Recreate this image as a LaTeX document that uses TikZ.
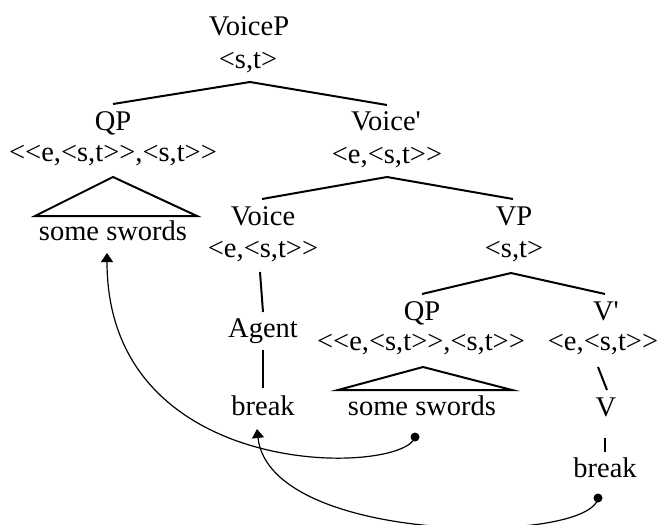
\documentclass[tikz,border=0pt]{standalone}
\usepackage{fontspec}
\setmainfont{Liberation Serif}[Ligatures=TeXOff]
\usetikzlibrary{arrows.meta}
\begin{document}
\begin{tikzpicture}[x=1pt,y=-1pt,
  lbl/.style={anchor=base,inner sep=0pt,font=\fontsize{28.5}{34}\selectfont},
  branch/.style={line width=2pt},
  mvcurve/.style={line width=1.2pt,-{Triangle[width=12pt,length=9pt]}},
  dotpt/.style={circle,fill=black,inner sep=0pt,minimum size=9pt}]
\useasboundingbox (0,0) rectangle (659,525);
% labels
\node[lbl] (voicep) at (249,35) {VoiceP};
\node[lbl] (voicepT) at (248,68) {<s,t>};
\node[lbl] (qp) at (113,130) {QP};
\node[lbl] (qpT) at (113,161) {<<e,<s,t>>,<s,t>>};
\node[lbl] (ss1) at (113,240) {some swords};
\node[lbl] (voicebar) at (386,130) {Voice\textquotesingle};
\node[lbl] (voicebarT) at (387,163) {<e,<s,t>>};
\node[lbl] (voice) at (263,225) {Voice};
\node[lbl] (voiceT) at (263,257) {<e,<s,t>>};
\node[lbl] (vp) at (514,225) {VP};
\node[lbl] (vpT) at (514,257) {<s,t>};
\node[lbl] (agent) at (263,337) {Agent};
\node[lbl] (break1) at (263,415) {break};
\node[lbl] (qp2) at (422,320) {QP};
\node[lbl] (qp2T) at (421,350) {<<e,<s,t>>,<s,t>>};
\node[lbl] (ss2) at (422,415) {some swords};
\node[lbl] (vbar) at (606,320) {V\textquotesingle};
\node[lbl] (vbarT) at (603,350) {<e,<s,t>>};
\node[lbl] (v) at (606,416) {V};
\node[lbl] (break2) at (605,477) {break};
% branch points
\coordinate (a1) at (250,82);
\coordinate (a1l) at (113,104);
\coordinate (a1r) at (387,105);
\coordinate (a2) at (387,177);
\coordinate (a2l) at (262,199);
\coordinate (a2r) at (513,199);
\coordinate (a3) at (511,273);
\coordinate (a3l) at (422,294);
\coordinate (a3r) at (605,294);
\coordinate (u1) at (260,272);
\coordinate (u1e) at (263,312);
\coordinate (u2) at (263,350);
\coordinate (u2e) at (263,388);
\coordinate (u3) at (598,367);
\coordinate (u3e) at (607,390);
\coordinate (u4) at (605,438);
\coordinate (u4e) at (605,452);
\coordinate (t1a) at (113,177);
\coordinate (t1l) at (35,216);
\coordinate (t1r) at (197,216);
\coordinate (t2a) at (423,367);
\coordinate (t2l) at (338,390);
\coordinate (t2r) at (512,390);
\draw[branch] (a1l) -- (a1) -- (a1r);
\draw[branch] (a2l) -- (a2) -- (a2r);
\draw[branch] (a3l) -- (a3) -- (a3r);
\draw[branch] (u1) -- (u1e);
\draw[branch] (u2) -- (u2e);
\draw[branch] (u3) -- (u3e);
\draw[branch] (u4) -- (u4e);
\draw[branch,line join=miter] (t1a) -- (t1r) -- (t1l) -- cycle;
\draw[branch,line join=miter] (t2a) -- (t2r) -- (t2l) -- cycle;
% movement arrows
\node[dotpt] (b1) at (415,437) {};
\node[dotpt] (b2) at (598,498) {};
\coordinate (tip1) at (107,253);
\coordinate (tip2) at (257,429);
\draw[mvcurve] (b1.center) .. controls (405,475) and (107,485) .. (tip1);
\draw[mvcurve] (b2.center) .. controls (590,545) and (270,545) .. (tip2);
\end{tikzpicture}
\end{document}
